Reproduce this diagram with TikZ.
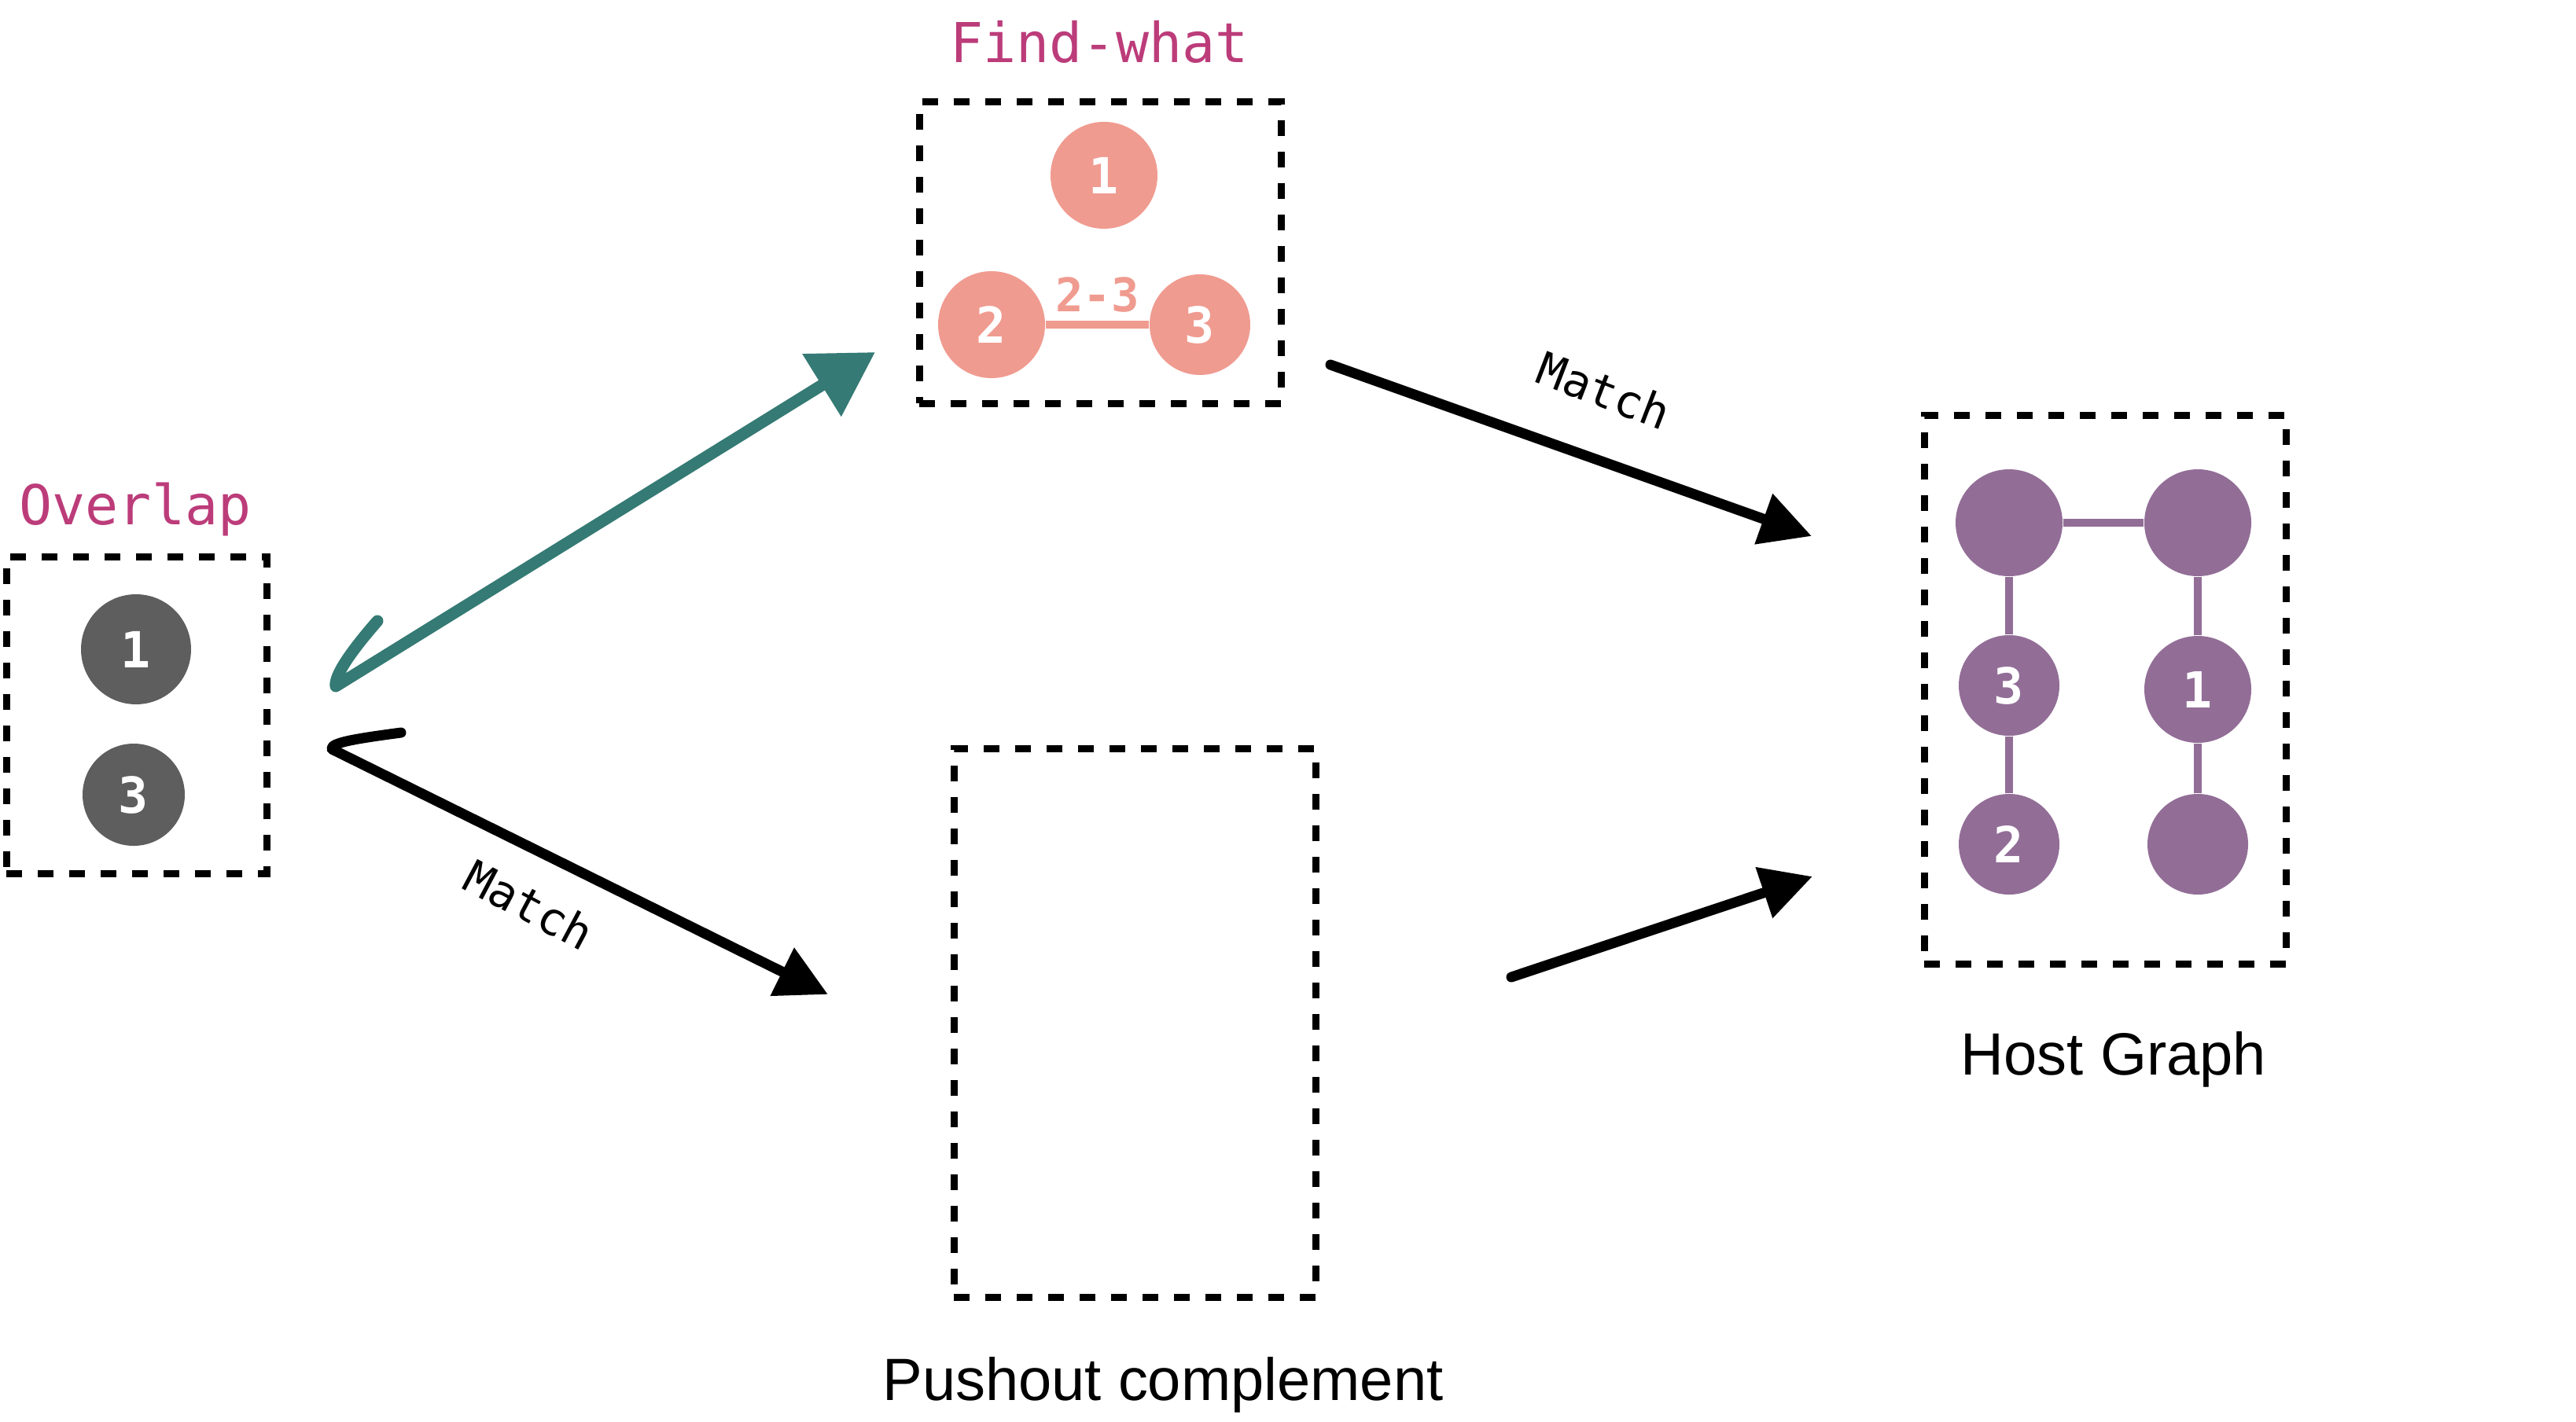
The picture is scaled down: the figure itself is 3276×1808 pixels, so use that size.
\documentclass[tikz,border=0pt]{standalone}
\usepackage{fontspec}
\setmainfont{Liberation Sans}
\newfontfamily\monofont{DejaVu Sans Mono}
\usepackage{tikz}
\usetikzlibrary{arrows.meta,positioning,calc}
\definecolor{ttlcol}{RGB}{188,60,122}
\definecolor{salmon}{RGB}{240,155,144}
\definecolor{darkgrey}{RGB}{94,94,94}
\definecolor{hostpurple}{RGB}{146,110,151}
\definecolor{chalkteal}{RGB}{53,122,116}
\tikzset{
  dbox/.style={draw,line width=0.9mm,dash pattern=on 2mm off 2mm,inner sep=0pt,outer sep=0pt},
  gnode/.style={circle,fill=#1,inner sep=0pt,minimum size=13.6mm,text=white,font=\monofont\bfseries\fontsize{18}{18}\selectfont},
  gsmall/.style={gnode=#1,minimum size=12.8mm},
  gedge/.style={line width=1.05mm,draw=#1},
  ttl/.style={font=\monofont\fontsize{19.9}{22}\selectfont,text=ttlcol,anchor=base},
  caplbl/.style={font=\fontsize{21.6}{24}\selectfont,anchor=base},
  mlbl/.style={font=\monofont\fontsize{16.5}{18}\selectfont},
  chalk/.style={line width=1.3mm,line cap=round,line join=round,-{Triangle[length=6.5mm,width=6.5mm]}},
}

\begin{document}
\begin{tikzpicture}[x=0.1mm,y=-0.1mm]
 \fill[white] (0,0) rectangle (3276,1808);
 \useasboundingbox (0,0) rectangle (3276,1808);
 % boxes
 \node[dbox,minimum width=46mm,minimum height=38.4mm] (fw) at (1399,321) {};
 \node[dbox,minimum width=33.1mm,minimum height=40.3mm] (ovl) at (173.5,909.5) {};
 \node[dbox,minimum width=46mm,minimum height=69.8mm] (po) at (1443,1301) {};
 \node[dbox,minimum width=46mm,minimum height=69.8mm] (host) at (2677,877) {};
 \node[ttl] (fwlbl) at (1398,79) {Find-what};
 \node[ttl] (ovllbl) at (172,667) {Overlap};
 \node[caplbl] (polbl) at (1479,1781) {Pushout complement};
 \node[caplbl] (hostlbl) at (2688,1367) {Host Graph};
 % find-what graph
 \node[gnode=salmon] (f1) at (1404,223) {1};
 \node[gnode=salmon] (f2) at (1261,413) {2};
 \node[gsmall=salmon] (f3) at (1526,413) {3};
 \draw[gedge=salmon] (f2) -- node[above=1mm,inner sep=0pt,text=salmon,font=\monofont\bfseries\fontsize{16.8}{17}\selectfont] (e23) {2-3} (f3);
 % overlap graph
 \node[gnode=darkgrey,minimum size=14mm] (o1) at (173,826) {1};
 \node[gsmall=darkgrey,minimum size=13mm] (o3) at (170,1011) {3};
 % host graph
 \node[gnode=hostpurple] (hTL) at (2555,665) {};
 \node[gnode=hostpurple] (hTR) at (2795,665) {};
 \node[gsmall=hostpurple] (h3) at (2555,872) {3};
 \node[gnode=hostpurple] (h1) at (2795,877) {1};
 \node[gsmall=hostpurple] (h2) at (2555,1074) {2};
 \node[gsmall=hostpurple] (hBR) at (2795,1074) {};
 \draw[gedge=hostpurple] (hTL) -- (hTR) (hTL) -- (h3) (h3) -- (h2) (hTR) -- (h1) (h1) -- (hBR);
 % arrows
 \coordinate (tHook) at (480,790);
 \coordinate (tTip) at (427,873);
 \coordinate (tEnd) at (1113,448);
 \coordinate (bHook) at (510,932);
 \coordinate (bTip) at (422,953);
 \coordinate (bEnd) at (1053,1265);
 \coordinate (mStart) at (1692,464);
 \coordinate (mEnd) at (2304,682);
 \coordinate (pStart) at (1922,1243);
 \coordinate (pEnd) at (2305,1115);
 \draw[chalk,draw=chalkteal,line width=1.5mm,-{Triangle[length=8mm,width=9mm]}] (tHook) .. controls (445,830) and (425,860) .. (tTip) -- (tEnd);
 \draw[chalk] (bHook) .. controls (450,940) and (420,945) .. (bTip) -- (bEnd);
 \draw[chalk] (mStart) -- (mEnd);
 \draw[chalk] (pStart) -- (pEnd);
 \node[mlbl,rotate=-21] (m1) at (2040,497) {Match};
 \node[mlbl,rotate=-28] (m2) at (673,1151) {Match};
\end{tikzpicture}
\end{document}
